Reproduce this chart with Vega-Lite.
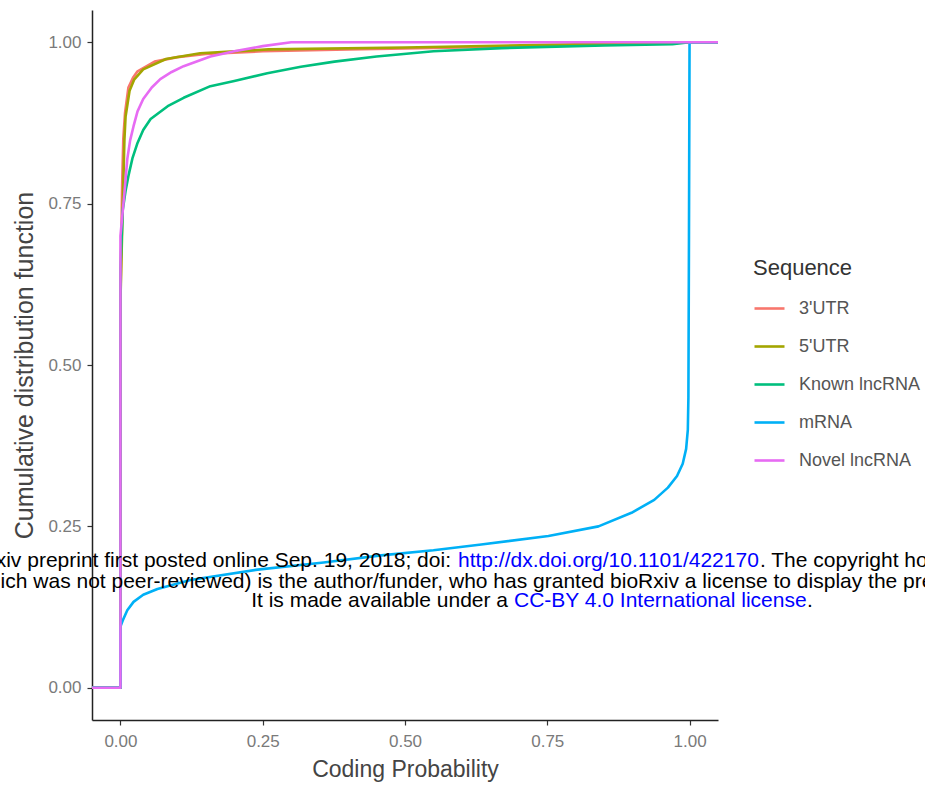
{
  "$schema": "https://vega.github.io/schema/vega-lite/v6.json",
  "autosize": {"type": "none"},
  "padding": {"left": 92, "top": 10, "right": 207, "bottom": 69},
  "width": 626,
  "height": 710,
  "background": "white",
  "config": {
    "font": "Liberation Sans",
    "view": {"stroke": null},
    "axis": {
      "grid": false,
      "domainColor": "#222222",
      "domainWidth": 1.5,
      "tickColor": "#333333",
      "tickWidth": 1.2,
      "tickSize": 5,
      "labelColor": "#7a7a7a",
      "labelFontSize": 17,
      "labelFont": "Liberation Sans",
      "titleFont": "Liberation Sans",
      "titleFontWeight": "normal",
      "titleColor": "#444444"
    }
  },
  "datasets": {
    "curves": [
      {"series": "3'UTR", "i": 0, "x": -0.05, "y": 0},
      {"series": "3'UTR", "i": 1, "x": 0, "y": 0},
      {"series": "3'UTR", "i": 2, "x": 0, "y": 0.6},
      {"series": "3'UTR", "i": 3, "x": 0.003, "y": 0.78},
      {"series": "3'UTR", "i": 4, "x": 0.005, "y": 0.85},
      {"series": "3'UTR", "i": 5, "x": 0.008, "y": 0.89},
      {"series": "3'UTR", "i": 6, "x": 0.014, "y": 0.93},
      {"series": "3'UTR", "i": 7, "x": 0.022, "y": 0.945},
      {"series": "3'UTR", "i": 8, "x": 0.03, "y": 0.955},
      {"series": "3'UTR", "i": 9, "x": 0.06, "y": 0.97},
      {"series": "3'UTR", "i": 10, "x": 0.1, "y": 0.977},
      {"series": "3'UTR", "i": 11, "x": 0.15, "y": 0.982},
      {"series": "3'UTR", "i": 12, "x": 0.25, "y": 0.986},
      {"series": "3'UTR", "i": 13, "x": 0.4, "y": 0.989},
      {"series": "3'UTR", "i": 14, "x": 0.6, "y": 0.992},
      {"series": "3'UTR", "i": 15, "x": 0.8, "y": 0.995},
      {"series": "3'UTR", "i": 16, "x": 1.0, "y": 1.0},
      {"series": "3'UTR", "i": 17, "x": 1.05, "y": 1.0},

      {"series": "5'UTR", "i": 0, "x": -0.05, "y": 0},
      {"series": "5'UTR", "i": 1, "x": 0, "y": 0},
      {"series": "5'UTR", "i": 2, "x": 0, "y": 0.6},
      {"series": "5'UTR", "i": 3, "x": 0.005, "y": 0.78},
      {"series": "5'UTR", "i": 4, "x": 0.007, "y": 0.85},
      {"series": "5'UTR", "i": 5, "x": 0.009, "y": 0.885},
      {"series": "5'UTR", "i": 6, "x": 0.016, "y": 0.925},
      {"series": "5'UTR", "i": 7, "x": 0.024, "y": 0.942},
      {"series": "5'UTR", "i": 8, "x": 0.04, "y": 0.958},
      {"series": "5'UTR", "i": 9, "x": 0.08, "y": 0.974},
      {"series": "5'UTR", "i": 10, "x": 0.14, "y": 0.983},
      {"series": "5'UTR", "i": 11, "x": 0.26, "y": 0.989},
      {"series": "5'UTR", "i": 12, "x": 0.5, "y": 0.992},
      {"series": "5'UTR", "i": 13, "x": 0.75, "y": 0.996},
      {"series": "5'UTR", "i": 14, "x": 1.0, "y": 1.0},
      {"series": "5'UTR", "i": 15, "x": 1.05, "y": 1.0},

      {"series": "Known lncRNA", "i": 0, "x": -0.05, "y": 0},
      {"series": "Known lncRNA", "i": 1, "x": 0, "y": 0},
      {"series": "Known lncRNA", "i": 2, "x": 0, "y": 0.65},
      {"series": "Known lncRNA", "i": 3, "x": 0.004, "y": 0.74},
      {"series": "Known lncRNA", "i": 4, "x": 0.009, "y": 0.77},
      {"series": "Known lncRNA", "i": 5, "x": 0.014, "y": 0.793},
      {"series": "Known lncRNA", "i": 6, "x": 0.021, "y": 0.82},
      {"series": "Known lncRNA", "i": 7, "x": 0.03, "y": 0.844},
      {"series": "Known lncRNA", "i": 8, "x": 0.04, "y": 0.864},
      {"series": "Known lncRNA", "i": 9, "x": 0.053, "y": 0.881},
      {"series": "Known lncRNA", "i": 10, "x": 0.083, "y": 0.901},
      {"series": "Known lncRNA", "i": 11, "x": 0.111, "y": 0.914},
      {"series": "Known lncRNA", "i": 12, "x": 0.158, "y": 0.932},
      {"series": "Known lncRNA", "i": 13, "x": 0.2, "y": 0.94},
      {"series": "Known lncRNA", "i": 14, "x": 0.258, "y": 0.952},
      {"series": "Known lncRNA", "i": 15, "x": 0.317, "y": 0.962},
      {"series": "Known lncRNA", "i": 16, "x": 0.376, "y": 0.97},
      {"series": "Known lncRNA", "i": 17, "x": 0.45, "y": 0.978},
      {"series": "Known lncRNA", "i": 18, "x": 0.55, "y": 0.986},
      {"series": "Known lncRNA", "i": 19, "x": 0.67, "y": 0.991},
      {"series": "Known lncRNA", "i": 20, "x": 0.85, "y": 0.995},
      {"series": "Known lncRNA", "i": 21, "x": 0.97, "y": 0.997},
      {"series": "Known lncRNA", "i": 22, "x": 1.0, "y": 1.0},
      {"series": "Known lncRNA", "i": 23, "x": 1.05, "y": 1.0},

      {"series": "mRNA", "i": 0, "x": -0.05, "y": 0},
      {"series": "mRNA", "i": 1, "x": 0, "y": 0},
      {"series": "mRNA", "i": 2, "x": 0, "y": 0.095},
      {"series": "mRNA", "i": 3, "x": 0.004, "y": 0.104},
      {"series": "mRNA", "i": 4, "x": 0.012, "y": 0.12},
      {"series": "mRNA", "i": 5, "x": 0.023, "y": 0.133},
      {"series": "mRNA", "i": 6, "x": 0.04, "y": 0.144},
      {"series": "mRNA", "i": 7, "x": 0.065, "y": 0.153},
      {"series": "mRNA", "i": 8, "x": 0.123, "y": 0.167},
      {"series": "mRNA", "i": 9, "x": 0.241, "y": 0.183},
      {"series": "mRNA", "i": 10, "x": 0.357, "y": 0.194},
      {"series": "mRNA", "i": 11, "x": 0.458, "y": 0.205},
      {"series": "mRNA", "i": 12, "x": 0.55, "y": 0.213},
      {"series": "mRNA", "i": 13, "x": 0.634, "y": 0.222},
      {"series": "mRNA", "i": 14, "x": 0.752, "y": 0.235},
      {"series": "mRNA", "i": 15, "x": 0.84, "y": 0.25},
      {"series": "mRNA", "i": 16, "x": 0.898, "y": 0.271},
      {"series": "mRNA", "i": 17, "x": 0.938, "y": 0.291},
      {"series": "mRNA", "i": 18, "x": 0.962, "y": 0.31},
      {"series": "mRNA", "i": 19, "x": 0.978, "y": 0.328},
      {"series": "mRNA", "i": 20, "x": 0.988, "y": 0.347},
      {"series": "mRNA", "i": 21, "x": 0.994, "y": 0.37},
      {"series": "mRNA", "i": 22, "x": 0.997, "y": 0.4},
      {"series": "mRNA", "i": 23, "x": 0.998, "y": 0.45},
      {"series": "mRNA", "i": 24, "x": 0.999, "y": 0.7},
      {"series": "mRNA", "i": 25, "x": 1.0, "y": 1.0},
      {"series": "mRNA", "i": 26, "x": 1.05, "y": 1.0},

      {"series": "Novel lncRNA", "i": 0, "x": -0.05, "y": 0},
      {"series": "Novel lncRNA", "i": 1, "x": 0, "y": 0},
      {"series": "Novel lncRNA", "i": 2, "x": 0, "y": 0.7},
      {"series": "Novel lncRNA", "i": 3, "x": 0.007, "y": 0.767},
      {"series": "Novel lncRNA", "i": 4, "x": 0.012, "y": 0.819},
      {"series": "Novel lncRNA", "i": 5, "x": 0.017, "y": 0.848},
      {"series": "Novel lncRNA", "i": 6, "x": 0.023, "y": 0.87},
      {"series": "Novel lncRNA", "i": 7, "x": 0.03, "y": 0.893},
      {"series": "Novel lncRNA", "i": 8, "x": 0.04, "y": 0.912},
      {"series": "Novel lncRNA", "i": 9, "x": 0.055, "y": 0.93},
      {"series": "Novel lncRNA", "i": 10, "x": 0.07, "y": 0.943},
      {"series": "Novel lncRNA", "i": 11, "x": 0.09, "y": 0.954},
      {"series": "Novel lncRNA", "i": 12, "x": 0.111, "y": 0.963},
      {"series": "Novel lncRNA", "i": 13, "x": 0.158, "y": 0.978},
      {"series": "Novel lncRNA", "i": 14, "x": 0.2, "y": 0.986},
      {"series": "Novel lncRNA", "i": 15, "x": 0.25, "y": 0.994},
      {"series": "Novel lncRNA", "i": 16, "x": 0.3, "y": 1.0},
      {"series": "Novel lncRNA", "i": 17, "x": 1.05, "y": 1.0}
    ],
    "notes": [
      {"kind": "pre", "x": 0.5808, "y": 0.187, "text": "bioRxiv preprint first posted online Sep. 19, 2018; doi:"},
      {"kind": "link", "x": 0.5931, "y": 0.187, "text": "http://dx.doi.org/10.1101/422170"},
      {"kind": "post", "x": 1.1238, "y": 0.187, "text": ". The copyright holder for this preprint"},
      {"kind": "pre", "x": 0.5668, "y": 0.1545, "text": "(which was not peer-reviewed) is the author/funder,"},
      {"kind": "post", "x": 0.5773, "y": 0.1545, "text": "who has granted bioRxiv a license to display the preprint in perpetuity."},
      {"kind": "pre", "x": 0.681, "y": 0.125, "text": "It is made available under a"},
      {"kind": "link", "x": 0.6915, "y": 0.125, "text": "CC-BY 4.0 International license"},
      {"kind": "post", "x": 1.2064, "y": 0.125, "text": "."}
    ]
  },
  "layer": [
    {
      "data": {"name": "curves"},
      "mark": {"type": "line", "strokeWidth": 2.6, "strokeJoin": "round"},
      "encoding": {
        "x": {
          "field": "x", "type": "quantitative",
          "scale": {"domain": [-0.05, 1.05], "nice": false, "zero": false},
          "axis": {"values": [0, 0.25, 0.5, 0.75, 1], "format": ".2f", "title": "Coding Probability", "titleFontSize": 23, "labelPadding": 8, "titlePadding": 9}
        },
        "y": {
          "field": "y", "type": "quantitative",
          "scale": {"domain": [-0.05, 1.05], "nice": false, "zero": false},
          "axis": {"values": [0, 0.25, 0.5, 0.75, 1], "format": ".2f", "title": "Cumulative distribution function", "titleFontSize": 25, "labelPadding": 6, "titlePadding": 10}
        },
        "color": {
          "field": "series", "type": "nominal",
          "scale": {
            "domain": ["3'UTR", "5'UTR", "Known lncRNA", "mRNA", "Novel lncRNA"],
            "range": ["#F8766D", "#A3A500", "#00BF7D", "#00B0F6", "#E76BF3"]
          },
          "legend": {
            "title": "Sequence",
            "orient": "none",
            "legendX": 661,
            "legendY": 248,
            "titleFontSize": 22,
            "titleFontWeight": "normal",
            "titleColor": "#333333",
            "titlePadding": 12,
            "labelFontSize": 18,
            "labelColor": "#555555",
            "labelOffset": 13,
            "symbolType": "stroke",
            "symbolSize": 900,
            "symbolStrokeWidth": 2.6,
            "rowPadding": 12
          }
        },
        "order": {"field": "i", "type": "quantitative"}
      }
    },
    {
      "data": {"name": "notes"},
      "transform": [{"filter": "datum.kind === 'pre'"}],
      "mark": {"type": "text", "align": "right", "baseline": "alphabetic", "fontSize": 21, "font": "Liberation Sans", "color": "#000000"},
      "encoding": {
        "x": {"field": "x", "type": "quantitative"},
        "y": {"field": "y", "type": "quantitative"},
        "text": {"field": "text"}
      }
    },
    {
      "data": {"name": "notes"},
      "transform": [{"filter": "datum.kind === 'post'"}],
      "mark": {"type": "text", "align": "left", "baseline": "alphabetic", "fontSize": 21, "font": "Liberation Sans", "color": "#000000"},
      "encoding": {
        "x": {"field": "x", "type": "quantitative"},
        "y": {"field": "y", "type": "quantitative"},
        "text": {"field": "text"}
      }
    },
    {
      "data": {"name": "notes"},
      "transform": [{"filter": "datum.kind === 'link'"}],
      "mark": {"type": "text", "align": "left", "baseline": "alphabetic", "fontSize": 21, "font": "Liberation Sans", "color": "#0000FF"},
      "encoding": {
        "x": {"field": "x", "type": "quantitative"},
        "y": {"field": "y", "type": "quantitative"},
        "text": {"field": "text"}
      }
    }
  ]
}
